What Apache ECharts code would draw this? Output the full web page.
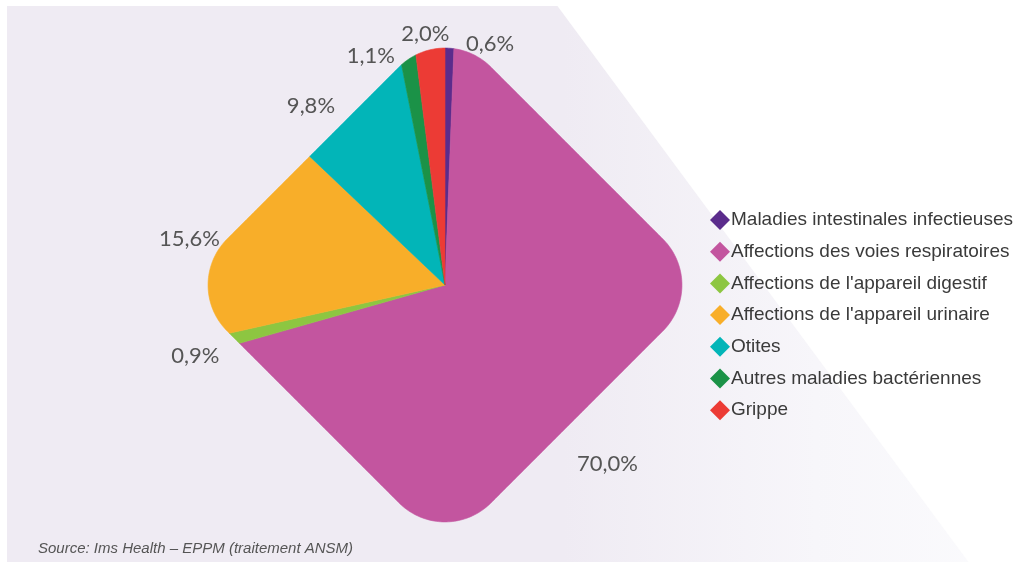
<!DOCTYPE html>
<html><head><meta charset="utf-8">
<script src="https://cdn.jsdelivr.net/npm/echarts@6/dist/echarts.min.js"></script>
<style>html,body{margin:0;padding:0;background:#fff}#main{width:1018px;height:562px}</style>
</head><body><div id="main"></div>
<script>
// ---- data ----
const categories = [
  'Maladies intestinales infectieuses',
  'Affections des voies respiratoires',
  "Affections de l'appareil digestif",
  "Affections de l'appareil urinaire",
  'Otites',
  'Autres maladies bactériennes',
  'Grippe'
];
const values = [0.6, 70.0, 0.9, 15.6, 9.8, 1.1, 2.0];
const sourceText = 'Source: Ims Health – EPPM (traitement ANSM)';

// ---- style ----
const colors = ['#5b2c8c', '#c3559f', '#8dc641', '#f8ae29', '#02b5b8', '#1b9247', '#ec3b35'];
const SHAPE = { half: 0.7873, corner: 0.2743 };   // rounded square (rotated 45°), in axis units
const LABEL_GAP = 30;
const LABEL_OFFSETS = [[40, 26], [-9, 44], [-10, 10], [-20, 19], [-26, 17], [-33, 26], [-3, 14]];

const total = values.reduce((a, b) => a + b, 0);
const cum = [];
values.reduce((acc, v) => { cum.push([acc, acc + v]); return acc + v; }, 0);

function sdf(x, y) {
  const u = (x + y) / Math.SQRT2, v = (x - y) / Math.SQRT2;
  const k = SHAPE.half - SHAPE.corner;
  const qx = Math.abs(u) - k, qy = Math.abs(v) - k;
  return Math.hypot(Math.max(qx, 0), Math.max(qy, 0)) + Math.min(Math.max(qx, qy), 0) - SHAPE.corner;
}
function boundary(t) {
  let lo = 0, hi = 1.5;
  const sx = Math.sin(t), sy = Math.cos(t);
  for (let i = 0; i < 40; i++) { const m = (lo + hi) / 2; if (sdf(m * sx, m * sy) < 0) lo = m; else hi = m; }
  return lo;
}
function fmt(v) { return v.toFixed(1).replace('.', ',') + '%'; }

function makeRender(i) {
  return function (params, api) {
    const start = api.value(0) / total * 2 * Math.PI;
    const end = api.value(1) / total * 2 * Math.PI;
    const c = api.coord([0, 0]);
    const pts = [c];
    const n = Math.max(2, Math.ceil((end - start) / (Math.PI / 360)));
    for (let k = 0; k <= n; k++) {
      const t = start + (end - start) * k / n;
      const r = boundary(t);
      pts.push(api.coord([r * Math.sin(t), r * Math.cos(t)]));
    }
    const mid = (start + end) / 2;
    const rb = boundary(mid);
    const e = api.coord([rb * Math.sin(mid), rb * Math.cos(mid)]);
    const rpx = Math.hypot(e[0] - c[0], e[1] - c[1]) + LABEL_GAP;
    const off = LABEL_OFFSETS[i];
    const color = api.visual('color');
    return {
      type: 'group',
      children: [
        { type: 'polygon', shape: { points: pts }, style: { fill: color, stroke: color, lineWidth: 0.6 } },
        { type: 'text', x: c[0] + rpx * Math.sin(mid) + off[0], y: c[1] - rpx * Math.cos(mid) + off[1],
          style: { text: fmt(values[i]), fill: '#555555', font: '22px Lato', align: 'center', verticalAlign: 'middle' } }
      ]
    };
  };
}

const chart = echarts.init(document.getElementById('main'), null, { renderer: 'canvas' });
chart.setOption({
  animation: false,
  backgroundColor: '#ffffff',
  grid: { left: 208, top: 48, width: 474, height: 474 },
  xAxis: { type: 'value', min: -1, max: 1, show: false },
  yAxis: { type: 'value', min: -1, max: 1, show: false },
  legend: {
    orient: 'vertical', left: 705, top: 205, icon: 'diamond',
    itemWidth: 20, itemHeight: 20, itemGap: 11.7,
    textStyle: { fontSize: 19, lineHeight: 18, color: '#3a3a3a', fontFamily: '"Liberation Sans", sans-serif', padding: [0, 0, 0, -4] },
    data: categories
  },
  graphic: [
    { type: 'rect', z: -10, shape: { x: 7, y: 6, width: 1011, height: 556 },
      style: { fill: { type: 'linear', x: 0, y: 0, x2: 1, y2: 0,
        colorStops: [{ offset: 0, color: '#efebf3' }, { offset: 0.55, color: '#efebf3' }, { offset: 0.8, color: '#f7f6fa' }, { offset: 1, color: '#fbfbfd' }] } } },
    { type: 'polygon', z: -9, shape: { points: [[553, 0], [1018, 0], [1018, 629]] },
      style: { fill: '#ffffff' } },
    { type: 'text', z: 5, x: 38, y: 549,
      style: { text: sourceText, fill: '#555555', font: 'italic 15px "Liberation Sans", sans-serif', verticalAlign: 'middle' } }
  ],
  series: categories.map((name, i) => ({
    type: 'custom', name: name, coordinateSystem: 'cartesian2d', clip: false,
    itemStyle: { color: colors[i] },
    encode: { x: 0, y: 1 },
    data: [cum[i]],
    renderItem: makeRender(i)
  }))
});
</script>
</body></html>
